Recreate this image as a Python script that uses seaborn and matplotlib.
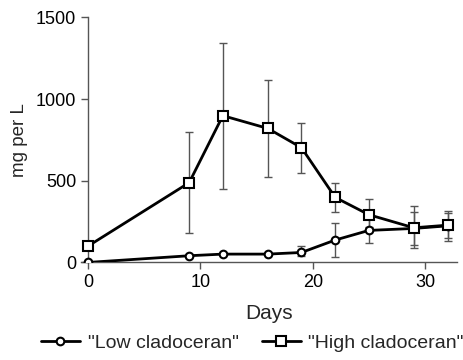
import matplotlib
matplotlib.use("Agg")
import matplotlib.pyplot as plt
import seaborn as sns
import pandas as pd
from matplotlib.lines import Line2D

days = [0, 9, 12, 16, 19, 22, 25, 29, 32]
low_mean = [0, 41, 51, 51, 61, 137, 196, 208, 224]
low_lo = [0, 41, 51, 51, 39, 35, 116, 108, 147]
low_hi = [0, 41, 51, 51, 100, 243, 276, 306, 300]
high_mean = [100, 488, 898, 820, 702, 398, 292, 212, 228]
high_lo = [100, 182, 449, 524, 549, 306, 214, 89, 132]
high_hi = [100, 796, 1345, 1116, 855, 488, 388, 345, 316]
series_names = ['"Low cladoceran"', '"High cladoceran"']

sns.set_style("ticks")
plt.rcParams['font.family'] = ['Liberation Sans Narrow', 'Liberation Sans', 'DejaVu Sans']

fig = plt.figure(figsize=(4.63, 3.6), dpi=100)
ax = fig.add_axes([0.1756, 0.271, 0.986 - 0.1756, 0.952 - 0.271])

df = pd.DataFrame({
    "Days": days * 2,
    "val": low_mean + high_mean,
    "series": [series_names[0]] * len(days) + [series_names[1]] * len(days),
})

grey = "#555555"
for mean, lo, hi in [(low_mean, low_lo, low_hi), (high_mean, high_lo, high_hi)]:
    yerr = [[m - l for m, l in zip(mean, lo)], [h - m for m, h in zip(mean, hi)]]
    ax.errorbar(days, mean, yerr=yerr, fmt="none", ecolor=grey, elinewidth=1.0,
                capsize=3.0, capthick=1.0, zorder=1)

sns.lineplot(data=df, x="Days", y="val", hue="series", style="series",
             markers={series_names[0]: "o", series_names[1]: "s"},
             dashes=False, palette={series_names[0]: "black", series_names[1]: "black"},
             linewidth=2.0, markersize=6, markerfacecolor="white",
             markeredgecolor="black", markeredgewidth=1.5, ax=ax, legend=False, zorder=3)
for ln in ax.lines:
    ln.set_clip_on(True)
    if ln.get_marker() == "s":
        ln.set_markersize(7.5)
    elif ln.get_marker() == "o":
        ln.set_markersize(5.5)

ax.set_xlim(-0.6, 32.8)
ax.set_ylim(0, 1500)
ax.set_xticks([0, 10, 20, 30])
ax.set_yticks([0, 500, 1000, 1500])
ax.spines["left"].set_position(("data", 0))
sns.despine(ax=ax)
for s in ["left", "bottom"]:
    ax.spines[s].set_color(grey)
    ax.spines[s].set_linewidth(1.0)
ax.tick_params(axis="both", colors=grey, labelcolor="black", labelsize=13, length=5, width=1.0)

ax.set_xlabel("Days", fontsize=15, labelpad=9)
ax.set_ylabel("mg per L", fontsize=13.5, labelpad=6)

handles = [
    Line2D([], [], color="black", lw=2.0, marker="o", markersize=5.5, markerfacecolor="white",
           markeredgecolor="black", markeredgewidth=1.5),
    Line2D([], [], color="black", lw=2.0, marker="s", markersize=7.5, markerfacecolor="white",
           markeredgecolor="black", markeredgewidth=1.5),
]
fig.legend(handles, series_names, loc="lower center", bbox_to_anchor=(0.545, -0.025), ncol=2,
           frameon=False, fontsize=14, handlelength=2.0, handletextpad=0.4, columnspacing=1.2)

fig.savefig("out.png", dpi=100)
